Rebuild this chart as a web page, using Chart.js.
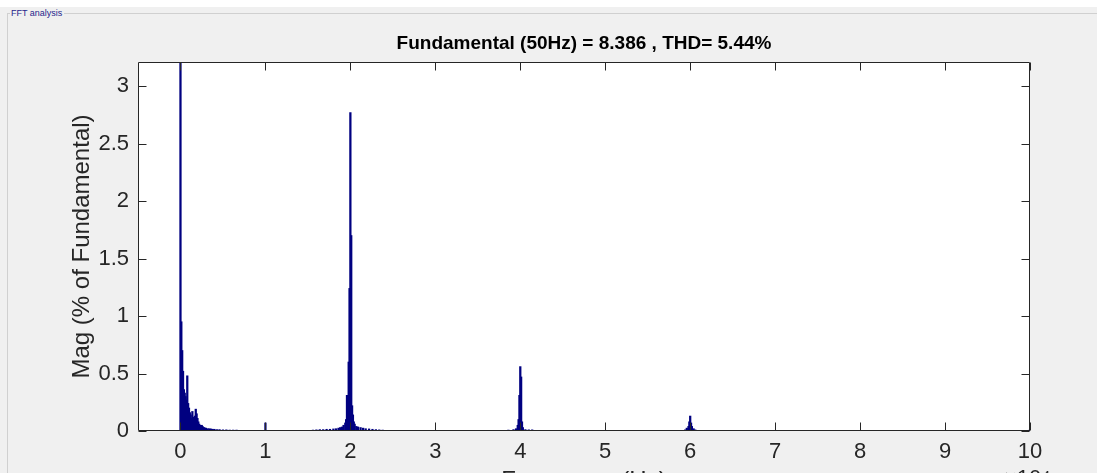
<!DOCTYPE html>
<html>
<head>
<meta charset="utf-8">
<script src="https://cdn.jsdelivr.net/npm/chart.js@4.4.1/dist/chart.umd.min.js"></script>
<style>
  html, body { margin: 0; padding: 0; width: 1097px; height: 473px; overflow: hidden; background: #f0f0f0; }
  #strip { position: absolute; left: 0; top: 0; width: 1097px; height: 7px; background: #fff; }
  #frame { position: absolute; left: 7px; top: 13px; width: 1090px; height: 470px; border-top: 1px solid #d0d0d0; border-left: 1px solid #d0d0d0; }
  #frameLabel { position: absolute; left: 10px; top: 8px; font: 9px Arial, "Liberation Sans", sans-serif; color: #1f1f8c; background: #f0f0f0; padding: 0 2px 0 1px; line-height: 11px; }
  canvas { position: absolute; left: 0; top: 0; }
</style>
</head>
<body>
<div id="strip"></div>
<div id="frame"></div>
<div id="frameLabel">FFT analysis</div>
<canvas id="fftChart" width="1097" height="500"></canvas>
<script>
// =========================================================
// FFT spectrum (harmonic bins, x axis in units of 10^4 Hz)
const binFreq = [
  0.00, 0.01, 0.02, 0.03, 0.04, 0.05, 0.06, 0.07, 0.08, 0.09,
  0.10, 0.11, 0.12, 0.13, 0.14, 0.15, 0.16, 0.17, 0.18, 0.19,
  0.20, 0.21, 0.22, 0.23, 0.24, 0.25, 0.26, 0.27, 0.28, 0.30,
  0.32, 0.34, 0.36, 0.38, 0.40, 0.43, 0.46, 0.50, 0.54, 0.58,
  0.62, 0.66, 0.70, 0.74, 0.78,
  1.00, 1.20,
  1.48, 1.52, 1.56, 1.60, 1.64, 1.68, 1.72, 1.76, 1.80, 1.83,
  1.86, 1.88, 1.90, 1.92, 1.94, 1.95, 1.96, 1.97, 1.98, 1.99,
  2.00, 2.01, 2.02, 2.03, 2.04, 2.05, 2.07, 2.09, 2.12, 2.15,
  2.18, 2.22, 2.26, 2.30, 2.34, 2.38, 2.42,
  3.80, 3.86, 3.92, 3.95, 3.97, 3.98, 3.99, 4.00, 4.01, 4.02,
  4.03, 4.06, 4.10, 4.14, 4.18,
  5.94, 5.96, 5.98, 5.99, 6.00, 6.01, 6.02, 6.04, 6.06,
  10.00
];
const binMag = [
  3.60, 0.95, 0.70, 0.52, 0.36, 0.33, 0.30, 0.27, 0.48, 0.24,
  0.20, 0.16, 0.14, 0.11, 0.17, 0.12, 0.10, 0.13, 0.19, 0.15,
  0.11, 0.08, 0.06, 0.05, 0.04, 0.05, 0.04, 0.03, 0.03, 0.025,
  0.02, 0.02, 0.018, 0.015, 0.015, 0.012, 0.012, 0.01, 0.01, 0.008,
  0.008, 0.008, 0.006, 0.006, 0.005,
  0.07, 0.004,
  0.005, 0.006, 0.008, 0.01, 0.012, 0.012, 0.015, 0.015, 0.018, 0.02,
  0.025, 0.03, 0.035, 0.05, 0.07, 0.10, 0.31, 0.26, 0.60, 1.24,
  2.77, 1.70, 0.22, 0.14, 0.08, 0.06, 0.04, 0.035, 0.03, 0.025,
  0.02, 0.018, 0.015, 0.012, 0.01, 0.008, 0.006,
  0.006, 0.008, 0.012, 0.02, 0.05, 0.10, 0.31, 0.56, 0.47, 0.08,
  0.03, 0.012, 0.01, 0.01, 0.006,
  0.01, 0.025, 0.04, 0.08, 0.13, 0.07, 0.04, 0.02, 0.01,
  0.012
];

// Axis ticks
const xTicks = [0, 1, 2, 3, 4, 5, 6, 7, 8, 9, 10];
const yTicks = [0, 0.5, 1, 1.5, 2, 2.5, 3];

// Theme
const fontFamily = 'Arial, "Liberation Sans", sans-serif';
const barColor = '#000080';
const axisColor = '#262626';
const tickLen = 8;

// =======================
// Plot frame plugin (white axes box, MATLAB-style inward ticks)
// =======================
const plotFrame = {
  id: 'plotFrame',
  beforeDraw(chart) {
    const { ctx, chartArea: a } = chart;
    ctx.save();
    ctx.fillStyle = '#fff';
    ctx.fillRect(a.left, a.top, a.right - a.left, a.bottom - a.top);
    ctx.restore();
  },
  afterDraw(chart) {
    const { ctx, chartArea: a, scales: { x, y } } = chart;
    const l = Math.round(a.left) + 0.5, r = Math.round(a.right) - 0.5;
    const t = Math.round(a.top) + 0.5, b = Math.round(a.bottom) - 0.5;
    ctx.save();
    ctx.strokeStyle = axisColor;
    ctx.lineWidth = 1;
    ctx.beginPath();
    ctx.rect(l, t, r - l, b - t);
    xTicks.forEach(v => {
      const px = Math.round(x.getPixelForValue(v)) + 0.5;
      ctx.moveTo(px, b); ctx.lineTo(px, b - tickLen);
      ctx.moveTo(px, t); ctx.lineTo(px, t + tickLen);
    });
    yTicks.forEach(v => {
      const py = Math.round(y.getPixelForValue(v)) + 0.5;
      ctx.moveTo(l, py); ctx.lineTo(l + tickLen, py);
      ctx.moveTo(r, py); ctx.lineTo(r - tickLen, py);
    });
    ctx.stroke();
    // exponent label of the x axis (mostly below the visible window)
    ctx.fillStyle = axisColor;
    ctx.font = '22px ' + fontFamily;
    ctx.textBaseline = 'top';
    ctx.fillText('\u00d710\u2074', 1004, 468);
    ctx.restore();
  }
};

// =======================
// Chart Configuration
// =======================
const points = binFreq.map((f, i) => ({ x: f, y: binMag[i] }));
const ctx = document.getElementById('fftChart').getContext('2d');

new Chart(ctx, {
  type: 'bar',
  data: {
    datasets: [{
      data: points,
      backgroundColor: barColor,
      borderWidth: 0,
      barThickness: 1.6,
      grouped: false
    }]
  },
  options: {
    responsive: false,
    animation: false,
    layout: { padding: { left: 0, right: 67, top: 0, bottom: 0 } },
    plugins: {
      legend: { display: false },
      tooltip: { enabled: false },
      title: {
        display: true,
        text: 'Fundamental (50Hz) = 8.386 , THD= 5.44%',
        fullSize: false,
        color: '#000',
        font: { family: fontFamily, size: 19, weight: 'bold' },
        padding: { top: 32, bottom: 7.2 }
      }
    },
    scales: {
      x: {
        type: 'linear',
        min: -0.5,
        max: 10,
        offset: false,
        afterBuildTicks: s => { s.ticks = xTicks.map(v => ({ value: v })); },
        afterFit: s => { s.height = 69; },
        grid: { display: false, drawTicks: false },
        border: { display: false },
        ticks: {
          color: axisColor,
          font: { family: fontFamily, size: 22 },
          padding: 8,
          maxRotation: 0,
          autoSkip: false,
          callback: v => String(v)
        },
        title: {
          display: true,
          text: 'Frequency (Hz)',
          color: axisColor,
          font: { family: fontFamily, size: 24 },
          padding: { top: 0, bottom: 4 }
        }
      },
      y: {
        min: 0,
        max: 3.209,
        afterBuildTicks: s => { s.ticks = yTicks.map(v => ({ value: v })); },
        afterFit: s => { s.width = 138; },
        grid: { display: false, drawTicks: false },
        border: { display: false },
        ticks: {
          color: axisColor,
          font: { family: fontFamily, size: 22 },
          padding: 9,
          autoSkip: false,
          callback: v => String(v)
        },
        title: {
          display: true,
          text: 'Mag (% of Fundamental)',
          color: axisColor,
          font: { family: fontFamily, size: 24 },
          padding: { top: 68, bottom: 0 }
        }
      }
    }
  },
  plugins: [plotFrame]
});
</script>
</body>
</html>
